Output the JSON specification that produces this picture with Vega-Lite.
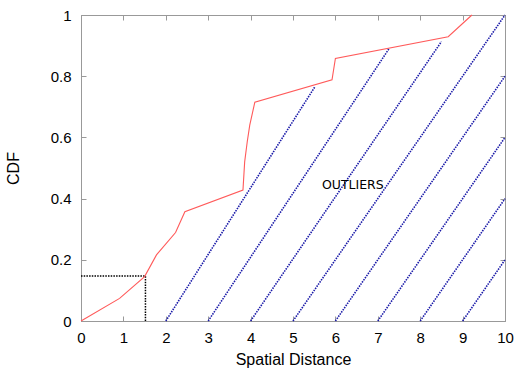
{
  "$schema": "https://vega.github.io/schema/vega-lite/v6.json",
  "autosize": "none",
  "width": 424,
  "height": 306,
  "padding": {"left": 81, "top": 15, "right": 12, "bottom": 47},
  "background": "white",
  "config": {
    "view": {"stroke": "#999999", "strokeWidth": 1},
    "font": "Liberation Sans"
  },
  "datasets": {
    "cdf": [
      {"x": 0, "y": 0},
      {"x": 0.91, "y": 0.074},
      {"x": 1.5, "y": 0.145},
      {"x": 1.78, "y": 0.216},
      {"x": 2.23, "y": 0.289},
      {"x": 2.45, "y": 0.357},
      {"x": 3.82, "y": 0.428},
      {"x": 3.86, "y": 0.52},
      {"x": 3.92, "y": 0.585},
      {"x": 3.98, "y": 0.64},
      {"x": 4.1, "y": 0.715},
      {"x": 5.92, "y": 0.788},
      {"x": 6.0, "y": 0.858},
      {"x": 8.66, "y": 0.929},
      {"x": 9.22, "y": 1.0}
    ],
    "hatch": [
      {"x": 2, "y": 0, "x2": 5.51, "y2": 0.764},
      {"x": 3, "y": 0, "x2": 7.27, "y2": 0.891},
      {"x": 4, "y": 0, "x2": 8.5, "y2": 0.913},
      {"x": 5, "y": 0, "x2": 10, "y2": 1.0},
      {"x": 6, "y": 0, "x2": 10, "y2": 0.8},
      {"x": 7, "y": 0, "x2": 10, "y2": 0.6},
      {"x": 8, "y": 0, "x2": 10, "y2": 0.4},
      {"x": 9, "y": 0, "x2": 10, "y2": 0.2}
    ],
    "guide": [
      {"x": 0, "y": 0.147, "x2": 1.52, "y2": 0.147},
      {"x": 1.52, "y": 0, "x2": 1.52, "y2": 0.147}
    ],
    "label": [
      {"x": 6.41, "y": 0.443, "text": "OUTLIERS"}
    ]
  },
  "resolve": {"axis": {"x": "independent", "y": "independent"}},
  "layer": [
    {
      "data": {"name": "hatch"},
      "mark": {"type": "rule", "color": "#1a1aa8", "strokeWidth": 1.6, "strokeDash": [1.5, 1.1]},
      "encoding": {
        "x": {
          "field": "x", "type": "quantitative",
          "scale": {"domain": [0, 10], "nice": false, "zero": false},
          "axis": {
            "values": [0, 1, 2, 3, 4, 5, 6, 7, 8, 9, 10],
            "format": "d",
            "title": "Spatial Distance",
            "titleFont": "Liberation Sans",
            "titleFontSize": 16,
            "titleFontWeight": "normal",
            "titleColor": "black",
            "titleBaseline": "alphabetic",
            "titleY": 43.5,
            "labelFont": "Liberation Sans",
            "labelFontSize": 15,
            "labelColor": "black",
            "labelBaseline": "alphabetic",
            "labelPadding": 26,
            "labelFlush": false,
            "labelOverlap": false,
            "tickSize": -5,
            "tickColor": "#999999",
            "domainColor": "#999999",
            "grid": false
          }
        },
        "y": {
          "field": "y", "type": "quantitative",
          "scale": {"domain": [0, 1], "nice": false},
          "axis": {
            "values": [0, 0.2, 0.4, 0.6, 0.8, 1],
            "format": "~g",
            "title": "CDF",
            "titleFont": "Liberation Sans",
            "titleFontSize": 16,
            "titleFontWeight": "normal",
            "titleColor": "black",
            "titleBaseline": "alphabetic",
            "titleX": -63,
            "labelFont": "Liberation Sans",
            "labelFontSize": 15,
            "labelColor": "black",
            "labelBaseline": "middle",
            "labelPadding": 15,
            "labelFlush": false,
            "labelOverlap": false,
            "tickSize": -5,
            "tickColor": "#999999",
            "domainColor": "#999999",
            "grid": false
          }
        },
        "x2": {"field": "x2"},
        "y2": {"field": "y2"}
      }
    },
    {
      "data": {"name": "guide"},
      "mark": {"type": "rule", "color": "black", "strokeWidth": 1.5, "strokeDash": [1.5, 1.2]},
      "encoding": {
        "x": {"field": "x", "type": "quantitative", "axis": null},
        "y": {"field": "y", "type": "quantitative", "axis": null},
        "x2": {"field": "x2"},
        "y2": {"field": "y2"}
      }
    },
    {
      "data": {"name": "cdf"},
      "mark": {"type": "line", "color": "#ff5a5a", "strokeWidth": 1.1},
      "encoding": {
        "x": {"field": "x", "type": "quantitative", "axis": null},
        "y": {"field": "y", "type": "quantitative", "axis": null}
      }
    },
    {
      "data": {"name": "label"},
      "mark": {"type": "text", "font": "DejaVu Sans", "fontSize": 12.5, "color": "black", "align": "center", "baseline": "middle"},
      "encoding": {
        "x": {
          "field": "x", "type": "quantitative",
          "axis": {"orient": "top", "values": [0, 1, 2, 3, 4, 5, 6, 7, 8, 9, 10], "labels": false, "title": null, "domain": false, "tickSize": -5, "tickColor": "#999999", "grid": false}
        },
        "y": {
          "field": "y", "type": "quantitative",
          "axis": {"orient": "right", "values": [0, 0.2, 0.4, 0.6, 0.8, 1], "labels": false, "title": null, "domain": false, "tickSize": -5, "tickColor": "#999999", "grid": false}
        },
        "text": {"field": "text"}
      }
    }
  ]
}
